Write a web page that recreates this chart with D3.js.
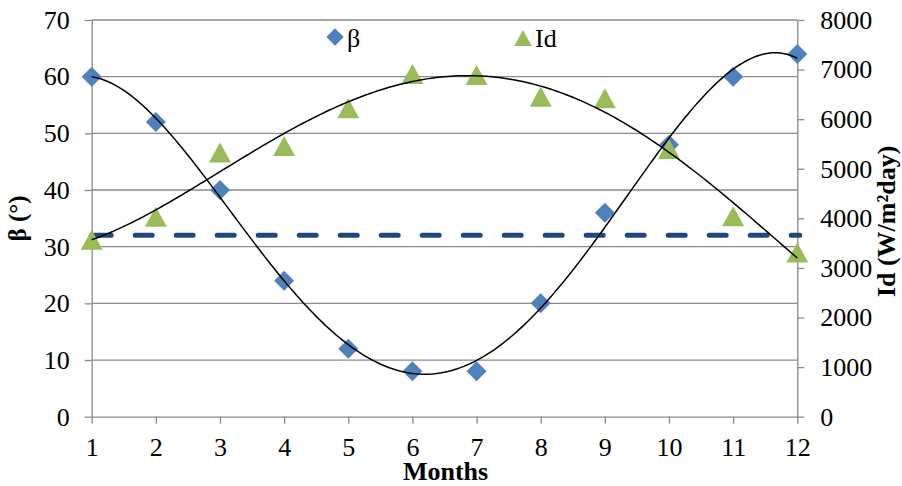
<!DOCTYPE html>
<html>
<head>
<meta charset="utf-8">
<script src="https://cdn.jsdelivr.net/npm/d3@7"></script>
<style>
  body { margin: 0; background: #fff; }
  svg text { font-family: "Liberation Serif", "Times New Roman", serif; fill: #000; }
</style>
</head>
<body>
<svg id="chart" width="902" height="486"></svg>
<script>
// Monthly optimum tilt angle (β) and daily irradiation (Id)
const months = [1, 2, 3, 4, 5, 6, 7, 8, 9, 10, 11, 12];
const betaValues = [60, 52, 40, 24, 12, 8, 8, 20, 36, 48, 60, 64];
const idValues = [3570, 4030, 5330, 5460, 6220, 6910, 6890, 6450, 6420, 5400, 4040, 3310];
const betaYearly = 32;
const betaTicks = [0, 10, 20, 30, 40, 50, 60, 70];
const idTicks = [0, 1000, 2000, 3000, 4000, 5000, 6000, 7000, 8000];
const betaTrendOrder = 4;
const idTrendOrder = 4;

const svg = d3.select("#chart");
const plot = { left: 91.7, right: 797.3, top: 20, bottom: 416.7 };
const gridColor = "#8a8a8a";
const betaColor = "#4f81bd";
const idColor = "#9bbb59";
const serif = '"Liberation Serif", "Times New Roman", serif';
const fontSize = 26;

const x = d3.scaleLinear().domain([1, 12]).range([plot.left, plot.right]);
const yBeta = d3.scaleLinear().domain([0, 70]).range([plot.bottom, plot.top]);
const yId = d3.scaleLinear().domain([0, 8000]).range([plot.bottom, plot.top]);

// least-squares polynomial trend line (normal equations, centred x)
function polyfit(xs, ys, order) {
  const xm = d3.mean(xs);
  const n = order + 1;
  const A = Array.from({ length: n }, () => new Array(n + 1).fill(0));
  xs.forEach((xv, k) => {
    const t = xv - xm;
    for (let i = 0; i < n; i++) {
      for (let j = 0; j < n; j++) A[i][j] += Math.pow(t, i + j);
      A[i][n] += ys[k] * Math.pow(t, i);
    }
  });
  for (let c = 0; c < n; c++) {
    let p = c;
    for (let r = c + 1; r < n; r++) if (Math.abs(A[r][c]) > Math.abs(A[p][c])) p = r;
    [A[c], A[p]] = [A[p], A[c]];
    for (let r = 0; r < n; r++) {
      if (r === c) continue;
      const f = A[r][c] / A[c][c];
      for (let k = c; k <= n; k++) A[r][k] -= f * A[c][k];
    }
  }
  const coef = A.map((row, i) => row[n] / row[i]);
  return xv => coef.reduce((s, cf, i) => s + cf * Math.pow(xv - xm, i), 0);
}

// horizontal gridlines from the β axis
svg.append("g")
  .selectAll("line")
  .data(betaTicks.filter(d => d > 0))
  .join("line")
  .attr("x1", plot.left).attr("x2", plot.right)
  .attr("y1", d => yBeta(d)).attr("y2", d => yBeta(d))
  .attr("stroke", gridColor).attr("stroke-width", 1.3);

function styleAxis(g) {
  g.attr("font-family", null).attr("font-size", null);
  g.selectAll(".domain").attr("stroke", gridColor).attr("stroke-width", 1.3);
  g.selectAll(".tick line").attr("stroke", gridColor).attr("stroke-width", 1.3);
  g.selectAll(".tick text")
    .style("font-family", serif).style("font-size", fontSize + "px").style("fill", "#000");
}

svg.append("g")
  .attr("transform", `translate(${plot.left},0)`)
  .call(d3.axisLeft(yBeta).tickValues(betaTicks).tickFormat(d3.format("d"))
    .tickSize(7).tickSizeOuter(0).tickPadding(15))
  .call(styleAxis);

svg.append("g")
  .attr("transform", `translate(${plot.right},0)`)
  .call(d3.axisRight(yId).tickValues(idTicks).tickFormat(d3.format("d"))
    .tickSize(7).tickSizeOuter(0).tickPadding(16))
  .call(styleAxis);

svg.append("g")
  .attr("transform", `translate(0,${plot.bottom})`)
  .call(d3.axisBottom(x).tickValues(months).tickFormat(d3.format("d"))
    .tickSize(7).tickSizeOuter(0).tickPadding(14))
  .call(styleAxis);

// yearly optimum tilt
svg.append("line")
  .attr("x1", x(1)).attr("x2", x(12))
  .attr("y1", yBeta(betaYearly)).attr("y2", yBeta(betaYearly))
  .attr("stroke", "#1f497d").attr("stroke-width", 5)
  .attr("stroke-linecap", "round").attr("stroke-dasharray", "17 24")
  .attr("transform", "translate(2.5,0)");

// marker shapes
const diamond = d3.symbol().type(d3.symbolSquare).size(200);
const triangleType = {
  draw(ctx) {
    ctx.moveTo(0, -10);
    ctx.lineTo(11, 10);
    ctx.lineTo(-11, 10);
    ctx.closePath();
  }
};
const triangle = d3.symbol().type(triangleType);

svg.append("g")
  .selectAll("path")
  .data(months.map((m, i) => [m, betaValues[i]]))
  .join("path")
  .attr("d", diamond)
  .attr("transform", d => `translate(${x(d[0])},${yBeta(d[1])}) rotate(45)`)
  .attr("fill", betaColor);

svg.append("g")
  .selectAll("path")
  .data(months.map((m, i) => [m, idValues[i]]))
  .join("path")
  .attr("d", triangle)
  .attr("transform", d => `translate(${x(d[0])},${yId(d[1])})`)
  .attr("fill", idColor);

// polynomial trend lines
const samples = d3.range(1, 12.0001, 0.05);
const betaFit = polyfit(months, betaValues, betaTrendOrder);
const idFit = polyfit(months, idValues, idTrendOrder);

svg.append("path")
  .attr("d", d3.line().x(d => x(d)).y(d => yBeta(betaFit(d)))(samples))
  .attr("fill", "none").attr("stroke", "#000").attr("stroke-width", 1.5);

svg.append("path")
  .attr("d", d3.line().x(d => x(d)).y(d => yId(idFit(d)))(samples))
  .attr("fill", "none").attr("stroke", "#000").attr("stroke-width", 1.5);

// legend
const legend = svg.append("g");
legend.append("path").attr("d", d3.symbol().type(d3.symbolSquare).size(150))
  .attr("transform", "translate(335,37) rotate(45)").attr("fill", betaColor);
legend.append("text").attr("x", 347).attr("y", 47).style("font-size", fontSize + "px").text("β");
legend.append("path").attr("d", triangle)
  .attr("transform", "translate(523,38) scale(0.8)").attr("fill", idColor);
legend.append("text").attr("x", 535).attr("y", 47).style("font-size", fontSize + "px").text("Id");

// axis titles
svg.append("text")
  .attr("transform", `translate(26,${(plot.top + plot.bottom) / 2}) rotate(-90)`)
  .attr("text-anchor", "middle").style("font-size", "25px").style("font-weight", "bold")
  .text("β (°)");

svg.append("text")
  .attr("transform", `translate(895,${(plot.top + plot.bottom) / 2 + 3}) rotate(-90)`)
  .attr("text-anchor", "middle").style("font-size", "26px").style("font-weight", "bold")
  .text("Id (W/m²day)");

svg.append("text")
  .attr("x", (plot.left + plot.right) / 2 + 1).attr("y", 480)
  .attr("text-anchor", "middle").style("font-size", "26px").style("font-weight", "bold")
  .text("Months");
</script>
</body>
</html>
